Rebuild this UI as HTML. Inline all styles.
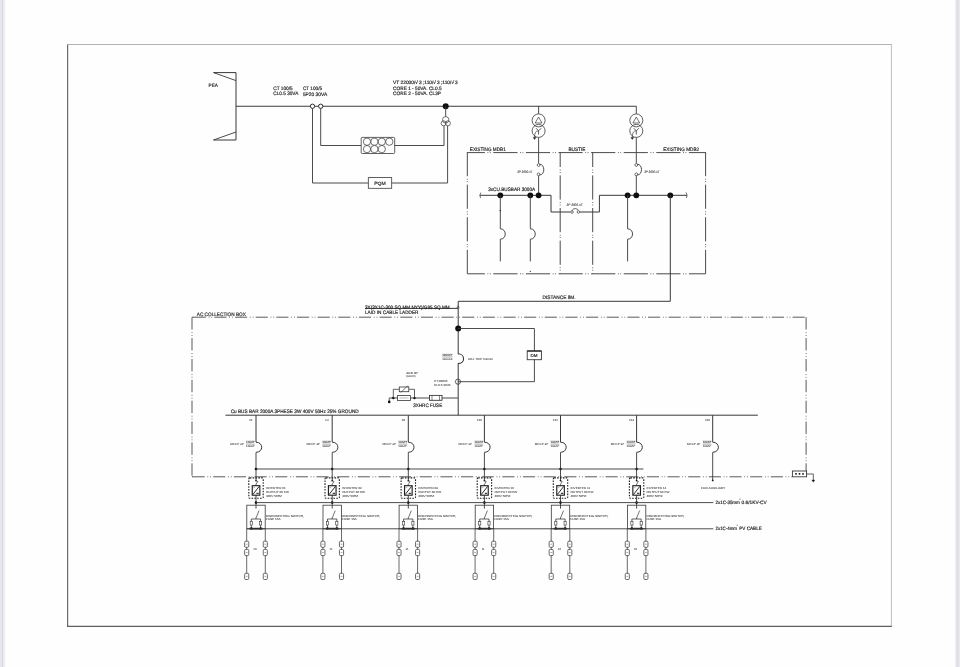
<!DOCTYPE html>
<html><head><meta charset="utf-8"><title>Single line diagram</title>
<style>
html,body{margin:0;padding:0;background:#fefefe;}
body{width:960px;height:667px;overflow:hidden;position:relative;font-family:"Liberation Sans",sans-serif;}
.edgeL{position:absolute;left:0;top:0;width:6px;height:667px;background:linear-gradient(90deg,#e9e8ee 0,#e7e6ec 33%,#d8d8df 43%,#e6e6ec 52%,#ededf2 70%,#f8f8fa 85%,#fefefe 100%);}
.edgeR{position:absolute;left:954px;top:0;width:6px;height:667px;background:linear-gradient(90deg,#fefefe 0,#f6f6f9 18%,#ebebf0 35%,#d6d6dd 52%,#e4e3ea 65%,#e9e8ee 100%);}
svg{position:absolute;left:0;top:0;}
svg text{font-family:"Liberation Sans",sans-serif;text-rendering:geometricPrecision;}
</style></head><body>
<div class="edgeL"></div><div class="edgeR"></div>
<svg width="960" height="667" viewBox="0 0 960 667">
<g filter="url(#soft)">
<defs><filter id="soft" x="0" y="0" width="960" height="667" filterUnits="userSpaceOnUse"><feGaussianBlur stdDeviation="0.45"/></filter></defs>
<line x1="67.6" y1="44.2" x2="67.6" y2="626.9" stroke="#6c6c6c" stroke-width="1.2" />
<line x1="67" y1="44.5" x2="891.8" y2="44.5" stroke="#a0a0a0" stroke-width="0.8" />
<line x1="891.4" y1="44.2" x2="891.4" y2="626.9" stroke="#b8b8b8" stroke-width="0.9" />
<line x1="67" y1="626.4" x2="891.8" y2="626.4" stroke="#5e5e5e" stroke-width="1.2" />
<polyline points="213.5,72.6 236,72.6 236,140 213.5,140" fill="none" stroke="#383838" stroke-width="1.0" />
<line x1="213.5" y1="72.6" x2="236" y2="80.6" stroke="#383838" stroke-width="0.9" />
<line x1="213.5" y1="140" x2="236" y2="132" stroke="#383838" stroke-width="0.9" />
<text x="208.5" y="87" font-size="4.8" fill="#222" stroke="#222" stroke-width="0.16" textLength="9.5" lengthAdjust="spacingAndGlyphs" >PEA</text>
<line x1="236" y1="106.25" x2="636.3" y2="106.25" stroke="#383838" stroke-width="1.1" />
<circle cx="312.5" cy="106.25" r="2.15" fill="#fff" stroke="#2a2a2a" stroke-width="1.0"/>
<circle cx="320.7" cy="106.25" r="2.15" fill="#fff" stroke="#2a2a2a" stroke-width="1.0"/>
<polyline points="312.5,108.4 312.5,183 368.3,183" fill="none" stroke="#383838" stroke-width="0.9" />
<polyline points="320.7,108.4 320.7,145.5 361.2,145.5" fill="none" stroke="#383838" stroke-width="0.9" />
<text x="273.3" y="89.8" font-size="4.9" fill="#222" stroke="#222" stroke-width="0.16" textLength="19.4" lengthAdjust="spacingAndGlyphs" >CT 100/5</text>
<text x="273.3" y="95.2" font-size="4.9" fill="#222" stroke="#222" stroke-width="0.16" textLength="25" lengthAdjust="spacingAndGlyphs" >CL0.5 30VA</text>
<text x="302.9" y="89.8" font-size="4.9" fill="#222" stroke="#222" stroke-width="0.16" textLength="19.2" lengthAdjust="spacingAndGlyphs" >CT 100/5</text>
<text x="302.9" y="96.1" font-size="4.9" fill="#222" stroke="#222" stroke-width="0.16" textLength="24.3" lengthAdjust="spacingAndGlyphs" >5P20 30VA</text>
<rect x="361.2" y="137.4" width="33.5" height="16.1" fill="none" stroke="#383838" stroke-width="0.8" rx="1"/>
<circle cx="367" cy="141.7" r="3.65" fill="none" stroke="#383838" stroke-width="0.7"/>
<circle cx="374.4" cy="141.7" r="3.65" fill="none" stroke="#383838" stroke-width="0.7"/>
<circle cx="381.8" cy="141.7" r="3.65" fill="none" stroke="#383838" stroke-width="0.7"/>
<circle cx="389.3" cy="141.7" r="3.65" fill="none" stroke="#383838" stroke-width="0.7"/>
<circle cx="367" cy="149.1" r="3.65" fill="none" stroke="#383838" stroke-width="0.7"/>
<circle cx="374.4" cy="149.1" r="3.65" fill="none" stroke="#383838" stroke-width="0.7"/>
<circle cx="381.8" cy="149.1" r="3.65" fill="none" stroke="#383838" stroke-width="0.7"/>
<rect x="368.3" y="177.6" width="23.4" height="10.7" fill="none" stroke="#383838" stroke-width="0.8" />
<text x="374.2" y="184.8" font-size="4.6" fill="#222" stroke="#222" stroke-width="0.16" textLength="11.5" lengthAdjust="spacingAndGlyphs" >PQM</text>
<circle cx="445.7" cy="106.2" r="3.0" fill="#111"/>
<line x1="445.7" y1="106.2" x2="445.7" y2="116.6" stroke="#383838" stroke-width="0.9" />
<circle cx="445.7" cy="119.8" r="3.2" fill="none" stroke="#383838" stroke-width="0.7"/>
<circle cx="443.6" cy="123.3" r="2.5" fill="none" stroke="#383838" stroke-width="0.7"/>
<circle cx="447.9" cy="123.3" r="2.5" fill="none" stroke="#383838" stroke-width="0.7"/>
<polyline points="394.7,145.5 444,145.5 444,125.8" fill="none" stroke="#383838" stroke-width="0.9" />
<polyline points="391.7,183 447.6,183 447.6,125.8" fill="none" stroke="#383838" stroke-width="0.9" />
<text x="393.1" y="83.6" font-size="4.8" fill="#222" stroke="#222" stroke-width="0.16" textLength="64.6" lengthAdjust="spacingAndGlyphs" >VT 22000/&#8730;&#8201;3 ;110/&#8730;&#8201;3 ;110/&#8730;&#8201;3</text>
<text x="393.1" y="89.6" font-size="4.8" fill="#222" stroke="#222" stroke-width="0.16" textLength="48.5" lengthAdjust="spacingAndGlyphs" >CORE 1 - 50VA. CL0.5</text>
<text x="393.1" y="95.1" font-size="4.8" fill="#222" stroke="#222" stroke-width="0.16" textLength="47.9" lengthAdjust="spacingAndGlyphs" >CORE 2 - 50VA. CL3P</text>
<line x1="538.6" y1="106.2" x2="538.6" y2="113.8" stroke="#383838" stroke-width="0.9" />
<circle cx="538.6" cy="120.4" r="6.5" fill="none" stroke="#383838" stroke-width="0.8"/>
<circle cx="538.6" cy="130.9" r="6.5" fill="none" stroke="#383838" stroke-width="0.8"/>
<path d="M535.2,123.0 L542.0,123.0 L538.6,117.0 Z" fill="none" stroke="#383838" stroke-width="0.7" />
<path d="M536.0,128.2 L538.6,130.8 L541.2,128.2 M538.6,130.8 L538.6,134.6" fill="none" stroke="#383838" stroke-width="0.8" />
<path d="M538.6,130.8 Q534.4,130.6 534.6,137.6" fill="none" stroke="#383838" stroke-width="0.7" />
<path d="M533.2,137.4 L536.0,137.4 L534.6,139.4 Z" fill="#111" stroke="#383838" stroke-width="0.5" />
<line x1="538.6" y1="137.7" x2="538.6" y2="163.6" stroke="#383838" stroke-width="0.9" />
<circle cx="538.6" cy="165.0" r="1.4" fill="#fff" stroke="#383838" stroke-width="0.7"/>
<circle cx="538.6" cy="174.3" r="1.4" fill="#fff" stroke="#383838" stroke-width="0.7"/>
<path d="M539.6,164.2 C545.2,164.2 545.2,175.0 539.6,175.0" fill="none" stroke="#383838" stroke-width="0.9" />
<line x1="538.6" y1="175.7" x2="538.6" y2="195.3" stroke="#383838" stroke-width="0.9" />
<line x1="636.3" y1="106.2" x2="636.3" y2="113.8" stroke="#383838" stroke-width="0.9" />
<circle cx="636.3" cy="120.4" r="6.5" fill="none" stroke="#383838" stroke-width="0.8"/>
<circle cx="636.3" cy="130.9" r="6.5" fill="none" stroke="#383838" stroke-width="0.8"/>
<path d="M632.9,123.0 L639.6999999999999,123.0 L636.3,117.0 Z" fill="none" stroke="#383838" stroke-width="0.7" />
<path d="M633.6999999999999,128.2 L636.3,130.8 L638.9,128.2 M636.3,130.8 L636.3,134.6" fill="none" stroke="#383838" stroke-width="0.8" />
<path d="M636.3,130.8 Q632.0999999999999,130.6 632.3,137.6" fill="none" stroke="#383838" stroke-width="0.7" />
<path d="M630.9,137.4 L633.6999999999999,137.4 L632.3,139.4 Z" fill="#111" stroke="#383838" stroke-width="0.5" />
<line x1="636.3" y1="137.7" x2="636.3" y2="163.6" stroke="#383838" stroke-width="0.9" />
<circle cx="636.3" cy="165.0" r="1.4" fill="#fff" stroke="#383838" stroke-width="0.7"/>
<circle cx="636.3" cy="174.3" r="1.4" fill="#fff" stroke="#383838" stroke-width="0.7"/>
<path d="M637.3,164.2 C642.9,164.2 642.9,175.0 637.3,175.0" fill="none" stroke="#383838" stroke-width="0.9" />
<line x1="636.3" y1="175.7" x2="636.3" y2="195.3" stroke="#383838" stroke-width="0.9" />
<text x="517.2" y="173.0" font-size="3.4" fill="#1a1a1a" stroke="#1a1a1a" stroke-width="0.05" textLength="15.2" lengthAdjust="spacingAndGlyphs" font-style="italic">3P 3000 AT</text>
<text x="644.2" y="173.0" font-size="3.4" fill="#1a1a1a" stroke="#1a1a1a" stroke-width="0.05" textLength="15.2" lengthAdjust="spacingAndGlyphs" font-style="italic">3P 3000 AT</text>
<line x1="467.3" y1="152.6" x2="705.6" y2="152.6" stroke="#4a4a4a" stroke-width="1.0" stroke-dasharray="24.2 2.6 0.8 1.6 0.8 2.6" stroke-dashoffset="6.6"/>
<line x1="467.3" y1="273.8" x2="705.6" y2="273.8" stroke="#4a4a4a" stroke-width="1.0" stroke-dasharray="24.2 2.6 0.8 1.6 0.8 2.6" stroke-dashoffset="6.6"/>
<line x1="467.3" y1="152.0" x2="467.3" y2="273.8" stroke="#4a4a4a" stroke-width="1.0" stroke-dasharray="24.2 2.6 0.8 1.6 0.8 2.6"/>
<line x1="705.6" y1="152.0" x2="705.6" y2="273.8" stroke="#4a4a4a" stroke-width="1.0" stroke-dasharray="24.2 2.6 0.8 1.6 0.8 2.6"/>
<line x1="560.2" y1="152.0" x2="560.2" y2="273.8" stroke="#4a4a4a" stroke-width="1.0" stroke-dasharray="24.2 2.6 0.8 1.6 0.8 2.6" stroke-dashoffset="9.2"/>
<line x1="592.7" y1="152.0" x2="592.7" y2="273.8" stroke="#4a4a4a" stroke-width="1.0" stroke-dasharray="24.2 2.6 0.8 1.6 0.8 2.6" stroke-dashoffset="9.2"/>
<text x="469.8" y="151.3" font-size="5.0" fill="#222" stroke="#222" stroke-width="0.16" textLength="36" lengthAdjust="spacingAndGlyphs" >EXISTING MDB1</text>
<text x="568.4" y="151.3" font-size="5.0" fill="#222" stroke="#222" stroke-width="0.16" textLength="17" lengthAdjust="spacingAndGlyphs" >BUSTIE</text>
<text x="663.2" y="151.3" font-size="5.0" fill="#222" stroke="#222" stroke-width="0.16" textLength="36" lengthAdjust="spacingAndGlyphs" >EXISTING MDB2</text>
<polyline points="479.8,195.3 551,195.3 551,212 599.4,212 599.4,195.3 687,195.3" fill="none" stroke="#383838" stroke-width="1.0" />
<path d="M480.8,192.6 Q479.0,195.3 480.6,198.0" fill="none" stroke="#383838" stroke-width="0.7" />
<path d="M686.0,192.4 Q688,195.3 686.4,198.0" fill="none" stroke="#383838" stroke-width="0.7" />
<circle cx="500.3" cy="195.3" r="2.9" fill="#111"/>
<circle cx="530.3" cy="195.3" r="2.9" fill="#111"/>
<circle cx="538.6" cy="195.3" r="2.9" fill="#111"/>
<circle cx="627.6" cy="195.3" r="2.9" fill="#111"/>
<circle cx="636.3" cy="195.3" r="2.9" fill="#111"/>
<circle cx="670.3" cy="195.3" r="2.9" fill="#111"/>
<text x="488.2" y="190.8" font-size="4.9" fill="#222" stroke="#222" stroke-width="0.16" textLength="47" lengthAdjust="spacingAndGlyphs" >3xCU.BUSBAR 3000A</text>
<rect x="570.4" y="209.5" width="9.5" height="4" fill="#fff" stroke="none" stroke-width="0.0" />
<circle cx="572" cy="212" r="1.3" fill="#fff" stroke="#383838" stroke-width="0.7"/>
<circle cx="578.4" cy="212" r="1.3" fill="#fff" stroke="#383838" stroke-width="0.7"/>
<path d="M572.2,210.6 C572.6,208 577.8,208 578.2,210.6" fill="none" stroke="#383838" stroke-width="0.8" />
<text x="566.6" y="205.9" font-size="3.4" fill="#1a1a1a" stroke="#1a1a1a" stroke-width="0.05" textLength="16" lengthAdjust="spacingAndGlyphs" font-style="italic">3P 3000 AT</text>
<line x1="500.3" y1="195.3" x2="500.3" y2="228.8" stroke="#383838" stroke-width="0.9" />
<path d="M500.3,228.8 C506.90000000000003,228.8 506.90000000000003,239.2 500.3,239.2" fill="none" stroke="#383838" stroke-width="0.9" />
<line x1="500.3" y1="239.2" x2="500.3" y2="261.4" stroke="#383838" stroke-width="0.9" />
<line x1="530.3" y1="195.3" x2="530.3" y2="228.8" stroke="#383838" stroke-width="0.9" />
<path d="M530.3,228.8 C536.9,228.8 536.9,239.2 530.3,239.2" fill="none" stroke="#383838" stroke-width="0.9" />
<line x1="530.3" y1="239.2" x2="530.3" y2="261.4" stroke="#383838" stroke-width="0.9" />
<line x1="627.6" y1="195.3" x2="627.6" y2="228.8" stroke="#383838" stroke-width="0.9" />
<path d="M627.6,228.8 C634.2,228.8 634.2,239.2 627.6,239.2" fill="none" stroke="#383838" stroke-width="0.9" />
<line x1="627.6" y1="239.2" x2="627.6" y2="261.4" stroke="#383838" stroke-width="0.9" />
<circle cx="500.3" cy="210.6" r="0.7" fill="#111"/>
<circle cx="530.3" cy="271.3" r="0.6" fill="#111"/>
<polyline points="670.3,195.3 670.3,301.3 458.2,301.3 458.2,415.2" fill="none" stroke="#383838" stroke-width="1.0" />
<text x="542.6" y="299.4" font-size="4.9" fill="#222" stroke="#222" stroke-width="0.16" textLength="33" lengthAdjust="spacingAndGlyphs" >DISTANCE 8M.</text>
<line x1="365" y1="308.4" x2="458" y2="308.4" stroke="#222" stroke-width="0.9" />
<path d="M456.6,308.3 L458,305.8 L459.4,308.3" fill="none" stroke="#383838" stroke-width="0.6" />
<text x="365" y="308.6" font-size="4.9" fill="#222" stroke="#222" stroke-width="0.16" textLength="86" lengthAdjust="spacingAndGlyphs" >3X(3X1C-300 SQ.MM.NYY)/G95 SQ.MM.</text>
<text x="365" y="313.8" font-size="4.9" fill="#222" stroke="#222" stroke-width="0.16" textLength="53.5" lengthAdjust="spacingAndGlyphs" >LAID IN CABLE LADDER</text>
<line x1="193.75" y1="317.2" x2="806.3" y2="317.2" stroke="#5a5a5a" stroke-width="1.0" stroke-dasharray="12.1 2.7 0.8 2.0 0.8 2.25"/>
<line x1="192" y1="317.2" x2="194" y2="317.2" stroke="#5a5a5a" stroke-width="1.0" />
<line x1="192.6" y1="476.8" x2="792" y2="476.8" stroke="#5a5a5a" stroke-width="1.0" stroke-dasharray="12.1 2.7 0.8 2.0 0.8 2.25"/>
<line x1="192" y1="476.8" x2="193" y2="476.8" stroke="#5a5a5a" stroke-width="1.0" />
<line x1="192" y1="317.2" x2="192" y2="476.8" stroke="#5a5a5a" stroke-width="1.0" stroke-dasharray="12.4 2.7 0.8 2.0 0.8 2.17"/>
<line x1="806.1" y1="317.2" x2="806.1" y2="476.8" stroke="#5a5a5a" stroke-width="1.0" stroke-dasharray="12.4 2.7 0.8 2.0 0.8 2.17"/>
<text x="196.8" y="315.6" font-size="4.9" fill="#222" stroke="#222" stroke-width="0.16" textLength="49" lengthAdjust="spacingAndGlyphs" >AC COLLECTION BOX</text>
<circle cx="458.2" cy="328.5" r="3.0" fill="#111"/>
<polyline points="458,328.5 534.4,328.5 534.4,350.8" fill="none" stroke="#383838" stroke-width="0.9" />
<polyline points="534.4,359.6 534.4,381.7 458,381.7" fill="none" stroke="#383838" stroke-width="0.9" />
<rect x="527.2" y="351.0" width="14.2" height="8.7" fill="none" stroke="#383838" stroke-width="0.9" />
<line x1="527.2" y1="351.0" x2="541.4" y2="351.0" stroke="#222" stroke-width="1.2" />
<text x="530.6" y="357" font-size="4.2" fill="#222" stroke="#222" stroke-width="0.16" textLength="7" lengthAdjust="spacingAndGlyphs" >DM</text>
<circle cx="458" cy="381.7" r="2.6" fill="none" stroke="#383838" stroke-width="0.8"/>
<rect x="456.5" y="354.2" width="3" height="8.9" fill="#fefefe" stroke="none" stroke-width="0.0" />
<path d="M458,353.8 C465.4,353.8 465.4,363.5 458,363.5" fill="none" stroke="#383838" stroke-width="1.1" />
<text x="442.2" y="356.3" font-size="2.5" fill="#3a3a3a" stroke="#3a3a3a" stroke-width="0.05" textLength="10.3" lengthAdjust="spacingAndGlyphs" >1250AT</text>
<line x1="442.2" y1="354.3" x2="452.5" y2="354.3" stroke="#383838" stroke-width="0.35" />
<line x1="442.2" y1="357.0" x2="452.5" y2="357.0" stroke="#383838" stroke-width="0.4" />
<text x="442.2" y="360.2" font-size="2.5" fill="#3a3a3a" stroke="#3a3a3a" stroke-width="0.05" textLength="10.3" lengthAdjust="spacingAndGlyphs" >1600AF</text>
<text x="468.1" y="360.4" font-size="2.8" fill="#3a3a3a" stroke="#3a3a3a" stroke-width="0.05" textLength="25" lengthAdjust="spacingAndGlyphs" >ADJ. TRIP 0.8In/In</text>
<text x="406.2" y="373.8" font-size="3.0" fill="#3a3a3a" stroke="#3a3a3a" stroke-width="0.05" textLength="11.5" lengthAdjust="spacingAndGlyphs" >ACB 3P</text>
<text x="406.2" y="377.0" font-size="2.8" fill="#3a3a3a" stroke="#3a3a3a" stroke-width="0.05" textLength="9.4" lengthAdjust="spacingAndGlyphs" >(GR-R)</text>
<text x="434.1" y="382.3" font-size="2.9" fill="#3a3a3a" stroke="#3a3a3a" stroke-width="0.05" textLength="13.4" lengthAdjust="spacingAndGlyphs" >CT1000/5</text>
<text x="434.1" y="385.6" font-size="2.9" fill="#3a3a3a" stroke="#3a3a3a" stroke-width="0.05" textLength="16.5" lengthAdjust="spacingAndGlyphs" >CL0.5 30VA</text>
<line x1="389.2" y1="398" x2="429.5" y2="398" stroke="#383838" stroke-width="0.9" />
<line x1="442" y1="398" x2="458" y2="398" stroke="#383838" stroke-width="0.9" />
<polyline points="389.2,398 389.2,401.6" fill="none" stroke="#383838" stroke-width="0.8" />
<circle cx="389.2" cy="401.9" r="1.3" fill="#111"/>
<circle cx="393.3" cy="398" r="1.2" fill="#111"/>
<circle cx="414.5" cy="398" r="1.2" fill="#111"/>
<rect x="397.5" y="395.6" width="13" height="4.8" fill="#fff" stroke="#383838" stroke-width="0.8" />
<line x1="399.5" y1="398" x2="408.5" y2="398" stroke="#777" stroke-width="0.5" />
<polyline points="393.3,398 393.3,389.3 399.3,389.3" fill="none" stroke="#383838" stroke-width="0.8" />
<polyline points="408.8,389.3 414.5,389.3 414.5,398" fill="none" stroke="#383838" stroke-width="0.8" />
<rect x="399.3" y="387" width="9.5" height="4.7" fill="#fff" stroke="#383838" stroke-width="0.8" />
<line x1="400.8" y1="392.6" x2="407.2" y2="386.2" stroke="#383838" stroke-width="0.7" />
<line x1="407.2" y1="386.2" x2="408.6" y2="386.2" stroke="#383838" stroke-width="0.6" />
<rect x="429.5" y="395.4" width="12.5" height="4.9" fill="#fff" stroke="#383838" stroke-width="0.9" />
<line x1="432" y1="395.4" x2="432" y2="400.3" stroke="#383838" stroke-width="0.6" />
<line x1="439.5" y1="395.4" x2="439.5" y2="400.3" stroke="#383838" stroke-width="0.6" />
<text x="413.2" y="407.2" font-size="4.9" fill="#222" stroke="#222" stroke-width="0.16" textLength="29" lengthAdjust="spacingAndGlyphs" >3XHRC FUSE</text>
<line x1="225.5" y1="415.2" x2="757.8" y2="415.2" stroke="#383838" stroke-width="1.0" />
<text x="230.7" y="413.3" font-size="4.9" fill="#222" stroke="#222" stroke-width="0.16" textLength="128" lengthAdjust="spacingAndGlyphs" >Cu BUS BAR 2000A 3PHESE 3W 400V 50Hz 25% GROUND</text>
<line x1="256.0" y1="415.2" x2="256.0" y2="442.2" stroke="#383838" stroke-width="1.0" />
<path d="M256.0,442.2 C263.6,442.2 263.6,452.3 256.0,452.3" fill="none" stroke="#383838" stroke-width="1.0" />
<text x="249.4" y="420.8" font-size="2.8" fill="#2a2a2a" stroke="#2a2a2a" stroke-width="0.05" >F1</text>
<text x="230.2" y="445.4" font-size="2.8" fill="#3a3a3a" stroke="#3a3a3a" stroke-width="0.05" textLength="13.5" lengthAdjust="spacingAndGlyphs" >MCCP 3P</text>
<text x="246.0" y="443.1" font-size="2.4" fill="#3a3a3a" stroke="#3a3a3a" stroke-width="0.05" textLength="8.7" lengthAdjust="spacingAndGlyphs" >100AT</text>
<line x1="246.0" y1="441.1" x2="254.7" y2="441.1" stroke="#383838" stroke-width="0.3" />
<line x1="246.0" y1="444.1" x2="254.7" y2="444.1" stroke="#383838" stroke-width="0.4" />
<text x="246.0" y="447.2" font-size="2.4" fill="#3a3a3a" stroke="#3a3a3a" stroke-width="0.05" textLength="8.7" lengthAdjust="spacingAndGlyphs" >100AF</text>
<line x1="256.0" y1="452.4" x2="256.0" y2="480" stroke="#383838" stroke-width="0.9" />
<circle cx="256.0" cy="469" r="1.3" fill="#111"/>
<rect x="248.8" y="477.9" width="14.4" height="20.4" fill="none" stroke="#1c1c1c" stroke-width="1.1" stroke-dasharray="1.55 1.3" rx="1"/>
<circle cx="256.0" cy="480.6" r="0.85" fill="#111"/>
<line x1="256.2" y1="480.8" x2="257.9" y2="481.6" stroke="#383838" stroke-width="0.7" />
<line x1="257.7" y1="481.6" x2="255.8" y2="484.6" stroke="#383838" stroke-width="0.7" />
<line x1="256.0" y1="484.4" x2="256.0" y2="485.6" stroke="#383838" stroke-width="0.8" />
<rect x="252.25" y="485.7" width="7.6" height="9.5" fill="#fff" stroke="#222" stroke-width="1.15" />
<line x1="252.8" y1="494.6" x2="259.3" y2="486.3" stroke="#222" stroke-width="0.95" />
<line x1="256.4" y1="493.3" x2="258.8" y2="493.3" stroke="#111" stroke-width="1.0" />
<line x1="253.2" y1="487.6" x2="255.0" y2="487.6" stroke="#777" stroke-width="0.5" />
<line x1="256.0" y1="495" x2="256.0" y2="508.6" stroke="#383838" stroke-width="0.9" />
<circle cx="256.0" cy="502.6" r="1.3" fill="#111"/>
<text x="266.0" y="489.0" font-size="2.9" fill="#3a3a3a" stroke="#3a3a3a" stroke-width="0.05" textLength="19.6" lengthAdjust="spacingAndGlyphs" >INVERTER 01</text>
<text x="266.0" y="492.5" font-size="2.9" fill="#3a3a3a" stroke="#3a3a3a" stroke-width="0.05" textLength="22.8" lengthAdjust="spacingAndGlyphs" >OUTPUT 60 KW</text>
<text x="266.0" y="496.5" font-size="2.9" fill="#3a3a3a" stroke="#3a3a3a" stroke-width="0.05" textLength="16" lengthAdjust="spacingAndGlyphs" >400V 50HZ</text>
<rect x="246.8" y="505.2" width="18.4" height="23.6" fill="none" stroke="#383838" stroke-width="0.8" />
<line x1="256.2" y1="517.6" x2="259.0" y2="510.6" stroke="#383838" stroke-width="0.7" />
<line x1="256.0" y1="517.4" x2="256.0" y2="519" stroke="#383838" stroke-width="0.8" />
<line x1="251.3" y1="519" x2="260.6" y2="519" stroke="#383838" stroke-width="0.8" />
<line x1="251.3" y1="519" x2="251.3" y2="528.6" stroke="#383838" stroke-width="0.8" />
<rect x="250.20000000000002" y="521.4" width="2.2" height="3.6" fill="#fff" stroke="#383838" stroke-width="0.6" />
<circle cx="251.3" cy="528.4" r="1.2" fill="#111"/>
<line x1="260.6" y1="519" x2="260.6" y2="528.6" stroke="#383838" stroke-width="0.8" />
<rect x="259.5" y="521.4" width="2.2" height="3.6" fill="#fff" stroke="#383838" stroke-width="0.6" />
<circle cx="260.6" cy="528.4" r="1.2" fill="#111"/>
<line x1="249.5" y1="528.6" x2="262.5" y2="528.6" stroke="#222" stroke-width="1.6" />
<text x="265.8" y="516.9" font-size="2.9" fill="#3a3a3a" stroke="#3a3a3a" stroke-width="0.05" textLength="38.1" lengthAdjust="spacingAndGlyphs" >DISCONECTING SWITCH,</text>
<text x="265.8" y="520.0" font-size="2.9" fill="#3a3a3a" stroke="#3a3a3a" stroke-width="0.05" textLength="14.7" lengthAdjust="spacingAndGlyphs" >FUSE 15A</text>
<line x1="246.7" y1="528.8" x2="246.7" y2="579.4" stroke="#444" stroke-width="0.8" />
<rect x="244.64999999999998" y="541.2" width="4.1" height="6.1" fill="#fff" stroke="#3a3a3a" stroke-width="0.75" rx="1.1"/>
<line x1="245.79999999999998" y1="544.25" x2="247.6" y2="544.25" stroke="#777" stroke-width="0.6" />
<rect x="244.64999999999998" y="549.4" width="4.1" height="6.2" fill="#fff" stroke="#3a3a3a" stroke-width="0.75" rx="1.1"/>
<line x1="245.79999999999998" y1="552.5" x2="247.6" y2="552.5" stroke="#777" stroke-width="0.6" />
<rect x="244.64999999999998" y="573.3" width="4.1" height="6.2" fill="#fff" stroke="#3a3a3a" stroke-width="0.75" rx="1.1"/>
<line x1="245.79999999999998" y1="576.4" x2="247.6" y2="576.4" stroke="#777" stroke-width="0.6" />
<line x1="265.3" y1="528.8" x2="265.3" y2="579.4" stroke="#444" stroke-width="0.8" />
<rect x="263.25" y="541.2" width="4.1" height="6.1" fill="#fff" stroke="#3a3a3a" stroke-width="0.75" rx="1.1"/>
<line x1="264.40000000000003" y1="544.25" x2="266.2" y2="544.25" stroke="#777" stroke-width="0.6" />
<rect x="263.25" y="549.4" width="4.1" height="6.2" fill="#fff" stroke="#3a3a3a" stroke-width="0.75" rx="1.1"/>
<line x1="264.40000000000003" y1="552.5" x2="266.2" y2="552.5" stroke="#777" stroke-width="0.6" />
<rect x="263.25" y="573.3" width="4.1" height="6.2" fill="#fff" stroke="#3a3a3a" stroke-width="0.75" rx="1.1"/>
<line x1="264.40000000000003" y1="576.4" x2="266.2" y2="576.4" stroke="#777" stroke-width="0.6" />
<text x="253.3" y="549.5" font-size="2.9" fill="#444" stroke="#444" stroke-width="0.05" >10</text>
<line x1="332.2" y1="415.2" x2="332.2" y2="442.2" stroke="#383838" stroke-width="1.0" />
<path d="M332.2,442.2 C339.8,442.2 339.8,452.3 332.2,452.3" fill="none" stroke="#383838" stroke-width="1.0" />
<text x="325.59999999999997" y="420.8" font-size="2.8" fill="#2a2a2a" stroke="#2a2a2a" stroke-width="0.05" >F2</text>
<text x="306.4" y="445.4" font-size="2.8" fill="#3a3a3a" stroke="#3a3a3a" stroke-width="0.05" textLength="13.5" lengthAdjust="spacingAndGlyphs" >MCCP 3P</text>
<text x="322.2" y="443.1" font-size="2.4" fill="#3a3a3a" stroke="#3a3a3a" stroke-width="0.05" textLength="8.7" lengthAdjust="spacingAndGlyphs" >100AT</text>
<line x1="322.2" y1="441.1" x2="330.9" y2="441.1" stroke="#383838" stroke-width="0.3" />
<line x1="322.2" y1="444.1" x2="330.9" y2="444.1" stroke="#383838" stroke-width="0.4" />
<text x="322.2" y="447.2" font-size="2.4" fill="#3a3a3a" stroke="#3a3a3a" stroke-width="0.05" textLength="8.7" lengthAdjust="spacingAndGlyphs" >100AF</text>
<line x1="332.2" y1="452.4" x2="332.2" y2="480" stroke="#383838" stroke-width="0.9" />
<circle cx="332.2" cy="469" r="1.3" fill="#111"/>
<rect x="325.0" y="477.9" width="14.4" height="20.4" fill="none" stroke="#1c1c1c" stroke-width="1.1" stroke-dasharray="1.55 1.3" rx="1"/>
<circle cx="332.2" cy="480.6" r="0.85" fill="#111"/>
<line x1="332.4" y1="480.8" x2="334.09999999999997" y2="481.6" stroke="#383838" stroke-width="0.7" />
<line x1="333.9" y1="481.6" x2="332.0" y2="484.6" stroke="#383838" stroke-width="0.7" />
<line x1="332.2" y1="484.4" x2="332.2" y2="485.6" stroke="#383838" stroke-width="0.8" />
<rect x="328.45" y="485.7" width="7.6" height="9.5" fill="#fff" stroke="#222" stroke-width="1.15" />
<line x1="329.0" y1="494.6" x2="335.5" y2="486.3" stroke="#222" stroke-width="0.95" />
<line x1="332.59999999999997" y1="493.3" x2="335.0" y2="493.3" stroke="#111" stroke-width="1.0" />
<line x1="329.4" y1="487.6" x2="331.2" y2="487.6" stroke="#777" stroke-width="0.5" />
<line x1="332.2" y1="495" x2="332.2" y2="508.6" stroke="#383838" stroke-width="0.9" />
<circle cx="332.2" cy="502.6" r="1.3" fill="#111"/>
<text x="342.2" y="489.0" font-size="2.9" fill="#3a3a3a" stroke="#3a3a3a" stroke-width="0.05" textLength="19.6" lengthAdjust="spacingAndGlyphs" >INVERTER 02</text>
<text x="342.2" y="492.5" font-size="2.9" fill="#3a3a3a" stroke="#3a3a3a" stroke-width="0.05" textLength="22.8" lengthAdjust="spacingAndGlyphs" >OUTPUT 60 KW</text>
<text x="342.2" y="496.5" font-size="2.9" fill="#3a3a3a" stroke="#3a3a3a" stroke-width="0.05" textLength="16" lengthAdjust="spacingAndGlyphs" >400V 50HZ</text>
<rect x="323.0" y="505.2" width="18.4" height="23.6" fill="none" stroke="#383838" stroke-width="0.8" />
<line x1="332.4" y1="517.6" x2="335.2" y2="510.6" stroke="#383838" stroke-width="0.7" />
<line x1="332.2" y1="517.4" x2="332.2" y2="519" stroke="#383838" stroke-width="0.8" />
<line x1="327.5" y1="519" x2="336.8" y2="519" stroke="#383838" stroke-width="0.8" />
<line x1="327.5" y1="519" x2="327.5" y2="528.6" stroke="#383838" stroke-width="0.8" />
<rect x="326.4" y="521.4" width="2.2" height="3.6" fill="#fff" stroke="#383838" stroke-width="0.6" />
<circle cx="327.5" cy="528.4" r="1.2" fill="#111"/>
<line x1="336.8" y1="519" x2="336.8" y2="528.6" stroke="#383838" stroke-width="0.8" />
<rect x="335.7" y="521.4" width="2.2" height="3.6" fill="#fff" stroke="#383838" stroke-width="0.6" />
<circle cx="336.8" cy="528.4" r="1.2" fill="#111"/>
<line x1="325.7" y1="528.6" x2="338.7" y2="528.6" stroke="#222" stroke-width="1.6" />
<text x="342.0" y="516.9" font-size="2.9" fill="#3a3a3a" stroke="#3a3a3a" stroke-width="0.05" textLength="38.1" lengthAdjust="spacingAndGlyphs" >DISCONECTING SWITCH,</text>
<text x="342.0" y="520.0" font-size="2.9" fill="#3a3a3a" stroke="#3a3a3a" stroke-width="0.05" textLength="14.7" lengthAdjust="spacingAndGlyphs" >FUSE 15A</text>
<line x1="322.9" y1="528.8" x2="322.9" y2="579.4" stroke="#444" stroke-width="0.8" />
<rect x="320.84999999999997" y="541.2" width="4.1" height="6.1" fill="#fff" stroke="#3a3a3a" stroke-width="0.75" rx="1.1"/>
<line x1="322.0" y1="544.25" x2="323.79999999999995" y2="544.25" stroke="#777" stroke-width="0.6" />
<rect x="320.84999999999997" y="549.4" width="4.1" height="6.2" fill="#fff" stroke="#3a3a3a" stroke-width="0.75" rx="1.1"/>
<line x1="322.0" y1="552.5" x2="323.79999999999995" y2="552.5" stroke="#777" stroke-width="0.6" />
<rect x="320.84999999999997" y="573.3" width="4.1" height="6.2" fill="#fff" stroke="#3a3a3a" stroke-width="0.75" rx="1.1"/>
<line x1="322.0" y1="576.4" x2="323.79999999999995" y2="576.4" stroke="#777" stroke-width="0.6" />
<line x1="341.5" y1="528.8" x2="341.5" y2="579.4" stroke="#444" stroke-width="0.8" />
<rect x="339.45" y="541.2" width="4.1" height="6.1" fill="#fff" stroke="#3a3a3a" stroke-width="0.75" rx="1.1"/>
<line x1="340.6" y1="544.25" x2="342.4" y2="544.25" stroke="#777" stroke-width="0.6" />
<rect x="339.45" y="549.4" width="4.1" height="6.2" fill="#fff" stroke="#3a3a3a" stroke-width="0.75" rx="1.1"/>
<line x1="340.6" y1="552.5" x2="342.4" y2="552.5" stroke="#777" stroke-width="0.6" />
<rect x="339.45" y="573.3" width="4.1" height="6.2" fill="#fff" stroke="#3a3a3a" stroke-width="0.75" rx="1.1"/>
<line x1="340.6" y1="576.4" x2="342.4" y2="576.4" stroke="#777" stroke-width="0.6" />
<text x="329.5" y="549.5" font-size="2.9" fill="#444" stroke="#444" stroke-width="0.05" >11</text>
<line x1="408.3" y1="415.2" x2="408.3" y2="442.2" stroke="#383838" stroke-width="1.0" />
<path d="M408.3,442.2 C415.90000000000003,442.2 415.90000000000003,452.3 408.3,452.3" fill="none" stroke="#383838" stroke-width="1.0" />
<text x="401.7" y="420.8" font-size="2.8" fill="#2a2a2a" stroke="#2a2a2a" stroke-width="0.05" >F9</text>
<text x="382.5" y="445.4" font-size="2.8" fill="#3a3a3a" stroke="#3a3a3a" stroke-width="0.05" textLength="13.5" lengthAdjust="spacingAndGlyphs" >MCCP 3P</text>
<text x="398.3" y="443.1" font-size="2.4" fill="#3a3a3a" stroke="#3a3a3a" stroke-width="0.05" textLength="8.7" lengthAdjust="spacingAndGlyphs" >100AT</text>
<line x1="398.3" y1="441.1" x2="407.0" y2="441.1" stroke="#383838" stroke-width="0.3" />
<line x1="398.3" y1="444.1" x2="407.0" y2="444.1" stroke="#383838" stroke-width="0.4" />
<text x="398.3" y="447.2" font-size="2.4" fill="#3a3a3a" stroke="#3a3a3a" stroke-width="0.05" textLength="8.7" lengthAdjust="spacingAndGlyphs" >100AF</text>
<line x1="408.3" y1="452.4" x2="408.3" y2="480" stroke="#383838" stroke-width="0.9" />
<circle cx="408.3" cy="469" r="1.3" fill="#111"/>
<rect x="401.1" y="477.9" width="14.4" height="20.4" fill="none" stroke="#1c1c1c" stroke-width="1.1" stroke-dasharray="1.55 1.3" rx="1"/>
<circle cx="408.3" cy="480.6" r="0.85" fill="#111"/>
<line x1="408.5" y1="480.8" x2="410.2" y2="481.6" stroke="#383838" stroke-width="0.7" />
<line x1="410.0" y1="481.6" x2="408.1" y2="484.6" stroke="#383838" stroke-width="0.7" />
<line x1="408.3" y1="484.4" x2="408.3" y2="485.6" stroke="#383838" stroke-width="0.8" />
<rect x="404.55" y="485.7" width="7.6" height="9.5" fill="#fff" stroke="#222" stroke-width="1.15" />
<line x1="405.1" y1="494.6" x2="411.6" y2="486.3" stroke="#222" stroke-width="0.95" />
<line x1="408.7" y1="493.3" x2="411.1" y2="493.3" stroke="#111" stroke-width="1.0" />
<line x1="405.5" y1="487.6" x2="407.3" y2="487.6" stroke="#777" stroke-width="0.5" />
<line x1="408.3" y1="495" x2="408.3" y2="508.6" stroke="#383838" stroke-width="0.9" />
<circle cx="408.3" cy="502.6" r="1.3" fill="#111"/>
<text x="418.3" y="489.0" font-size="2.9" fill="#3a3a3a" stroke="#3a3a3a" stroke-width="0.05" textLength="19.6" lengthAdjust="spacingAndGlyphs" >INVERTER 09</text>
<text x="418.3" y="492.5" font-size="2.9" fill="#3a3a3a" stroke="#3a3a3a" stroke-width="0.05" textLength="22.8" lengthAdjust="spacingAndGlyphs" >OUTPUT 60 KW</text>
<text x="418.3" y="496.5" font-size="2.9" fill="#3a3a3a" stroke="#3a3a3a" stroke-width="0.05" textLength="16" lengthAdjust="spacingAndGlyphs" >400V 50HZ</text>
<rect x="399.1" y="505.2" width="18.4" height="23.6" fill="none" stroke="#383838" stroke-width="0.8" />
<line x1="408.5" y1="517.6" x2="411.3" y2="510.6" stroke="#383838" stroke-width="0.7" />
<line x1="408.3" y1="517.4" x2="408.3" y2="519" stroke="#383838" stroke-width="0.8" />
<line x1="403.6" y1="519" x2="412.90000000000003" y2="519" stroke="#383838" stroke-width="0.8" />
<line x1="403.6" y1="519" x2="403.6" y2="528.6" stroke="#383838" stroke-width="0.8" />
<rect x="402.5" y="521.4" width="2.2" height="3.6" fill="#fff" stroke="#383838" stroke-width="0.6" />
<circle cx="403.6" cy="528.4" r="1.2" fill="#111"/>
<line x1="412.90000000000003" y1="519" x2="412.90000000000003" y2="528.6" stroke="#383838" stroke-width="0.8" />
<rect x="411.8" y="521.4" width="2.2" height="3.6" fill="#fff" stroke="#383838" stroke-width="0.6" />
<circle cx="412.90000000000003" cy="528.4" r="1.2" fill="#111"/>
<line x1="401.8" y1="528.6" x2="414.8" y2="528.6" stroke="#222" stroke-width="1.6" />
<text x="418.1" y="516.9" font-size="2.9" fill="#3a3a3a" stroke="#3a3a3a" stroke-width="0.05" textLength="38.1" lengthAdjust="spacingAndGlyphs" >DISCONECTING SWITCH,</text>
<text x="418.1" y="520.0" font-size="2.9" fill="#3a3a3a" stroke="#3a3a3a" stroke-width="0.05" textLength="14.7" lengthAdjust="spacingAndGlyphs" >FUSE 15A</text>
<line x1="399.0" y1="528.8" x2="399.0" y2="579.4" stroke="#444" stroke-width="0.8" />
<rect x="396.95" y="541.2" width="4.1" height="6.1" fill="#fff" stroke="#3a3a3a" stroke-width="0.75" rx="1.1"/>
<line x1="398.1" y1="544.25" x2="399.9" y2="544.25" stroke="#777" stroke-width="0.6" />
<rect x="396.95" y="549.4" width="4.1" height="6.2" fill="#fff" stroke="#3a3a3a" stroke-width="0.75" rx="1.1"/>
<line x1="398.1" y1="552.5" x2="399.9" y2="552.5" stroke="#777" stroke-width="0.6" />
<rect x="396.95" y="573.3" width="4.1" height="6.2" fill="#fff" stroke="#3a3a3a" stroke-width="0.75" rx="1.1"/>
<line x1="398.1" y1="576.4" x2="399.9" y2="576.4" stroke="#777" stroke-width="0.6" />
<line x1="417.6" y1="528.8" x2="417.6" y2="579.4" stroke="#444" stroke-width="0.8" />
<rect x="415.55" y="541.2" width="4.1" height="6.1" fill="#fff" stroke="#3a3a3a" stroke-width="0.75" rx="1.1"/>
<line x1="416.70000000000005" y1="544.25" x2="418.5" y2="544.25" stroke="#777" stroke-width="0.6" />
<rect x="415.55" y="549.4" width="4.1" height="6.2" fill="#fff" stroke="#3a3a3a" stroke-width="0.75" rx="1.1"/>
<line x1="416.70000000000005" y1="552.5" x2="418.5" y2="552.5" stroke="#777" stroke-width="0.6" />
<rect x="415.55" y="573.3" width="4.1" height="6.2" fill="#fff" stroke="#3a3a3a" stroke-width="0.75" rx="1.1"/>
<line x1="416.70000000000005" y1="576.4" x2="418.5" y2="576.4" stroke="#777" stroke-width="0.6" />
<text x="405.6" y="549.5" font-size="2.9" fill="#444" stroke="#444" stroke-width="0.05" >11</text>
<line x1="484.4" y1="415.2" x2="484.4" y2="442.2" stroke="#383838" stroke-width="1.0" />
<path d="M484.4,442.2 C492.0,442.2 492.0,452.3 484.4,452.3" fill="none" stroke="#383838" stroke-width="1.0" />
<text x="477.0" y="420.8" font-size="2.8" fill="#2a2a2a" stroke="#2a2a2a" stroke-width="0.05" >F10</text>
<text x="458.59999999999997" y="445.4" font-size="2.8" fill="#3a3a3a" stroke="#3a3a3a" stroke-width="0.05" textLength="13.5" lengthAdjust="spacingAndGlyphs" >MCCP 3P</text>
<text x="474.4" y="443.1" font-size="2.4" fill="#3a3a3a" stroke="#3a3a3a" stroke-width="0.05" textLength="8.7" lengthAdjust="spacingAndGlyphs" >100AT</text>
<line x1="474.4" y1="441.1" x2="483.09999999999997" y2="441.1" stroke="#383838" stroke-width="0.3" />
<line x1="474.4" y1="444.1" x2="483.09999999999997" y2="444.1" stroke="#383838" stroke-width="0.4" />
<text x="474.4" y="447.2" font-size="2.4" fill="#3a3a3a" stroke="#3a3a3a" stroke-width="0.05" textLength="8.7" lengthAdjust="spacingAndGlyphs" >100AF</text>
<line x1="484.4" y1="452.4" x2="484.4" y2="480" stroke="#383838" stroke-width="0.9" />
<circle cx="484.4" cy="469" r="1.3" fill="#111"/>
<rect x="477.2" y="477.9" width="14.4" height="20.4" fill="none" stroke="#1c1c1c" stroke-width="1.1" stroke-dasharray="1.55 1.3" rx="1"/>
<circle cx="484.4" cy="480.6" r="0.85" fill="#111"/>
<line x1="484.59999999999997" y1="480.8" x2="486.29999999999995" y2="481.6" stroke="#383838" stroke-width="0.7" />
<line x1="486.09999999999997" y1="481.6" x2="484.2" y2="484.6" stroke="#383838" stroke-width="0.7" />
<line x1="484.4" y1="484.4" x2="484.4" y2="485.6" stroke="#383838" stroke-width="0.8" />
<rect x="480.65" y="485.7" width="7.6" height="9.5" fill="#fff" stroke="#222" stroke-width="1.15" />
<line x1="481.2" y1="494.6" x2="487.7" y2="486.3" stroke="#222" stroke-width="0.95" />
<line x1="484.79999999999995" y1="493.3" x2="487.2" y2="493.3" stroke="#111" stroke-width="1.0" />
<line x1="481.59999999999997" y1="487.6" x2="483.4" y2="487.6" stroke="#777" stroke-width="0.5" />
<line x1="484.4" y1="495" x2="484.4" y2="508.6" stroke="#383838" stroke-width="0.9" />
<circle cx="484.4" cy="502.6" r="1.3" fill="#111"/>
<text x="494.4" y="489.0" font-size="2.9" fill="#3a3a3a" stroke="#3a3a3a" stroke-width="0.05" textLength="19.6" lengthAdjust="spacingAndGlyphs" >INVERTER 10</text>
<text x="494.4" y="492.5" font-size="2.9" fill="#3a3a3a" stroke="#3a3a3a" stroke-width="0.05" textLength="22.8" lengthAdjust="spacingAndGlyphs" >OUTPUT 60 KW</text>
<text x="494.4" y="496.5" font-size="2.9" fill="#3a3a3a" stroke="#3a3a3a" stroke-width="0.05" textLength="16" lengthAdjust="spacingAndGlyphs" >400V 50HZ</text>
<rect x="475.2" y="505.2" width="18.4" height="23.6" fill="none" stroke="#383838" stroke-width="0.8" />
<line x1="484.59999999999997" y1="517.6" x2="487.4" y2="510.6" stroke="#383838" stroke-width="0.7" />
<line x1="484.4" y1="517.4" x2="484.4" y2="519" stroke="#383838" stroke-width="0.8" />
<line x1="479.7" y1="519" x2="489.0" y2="519" stroke="#383838" stroke-width="0.8" />
<line x1="479.7" y1="519" x2="479.7" y2="528.6" stroke="#383838" stroke-width="0.8" />
<rect x="478.59999999999997" y="521.4" width="2.2" height="3.6" fill="#fff" stroke="#383838" stroke-width="0.6" />
<circle cx="479.7" cy="528.4" r="1.2" fill="#111"/>
<line x1="489.0" y1="519" x2="489.0" y2="528.6" stroke="#383838" stroke-width="0.8" />
<rect x="487.9" y="521.4" width="2.2" height="3.6" fill="#fff" stroke="#383838" stroke-width="0.6" />
<circle cx="489.0" cy="528.4" r="1.2" fill="#111"/>
<line x1="477.9" y1="528.6" x2="490.9" y2="528.6" stroke="#222" stroke-width="1.6" />
<text x="494.2" y="516.9" font-size="2.9" fill="#3a3a3a" stroke="#3a3a3a" stroke-width="0.05" textLength="38.1" lengthAdjust="spacingAndGlyphs" >DISCONECTING SWITCH,</text>
<text x="494.2" y="520.0" font-size="2.9" fill="#3a3a3a" stroke="#3a3a3a" stroke-width="0.05" textLength="14.7" lengthAdjust="spacingAndGlyphs" >FUSE 15A</text>
<line x1="475.09999999999997" y1="528.8" x2="475.09999999999997" y2="579.4" stroke="#444" stroke-width="0.8" />
<rect x="473.04999999999995" y="541.2" width="4.1" height="6.1" fill="#fff" stroke="#3a3a3a" stroke-width="0.75" rx="1.1"/>
<line x1="474.2" y1="544.25" x2="475.99999999999994" y2="544.25" stroke="#777" stroke-width="0.6" />
<rect x="473.04999999999995" y="549.4" width="4.1" height="6.2" fill="#fff" stroke="#3a3a3a" stroke-width="0.75" rx="1.1"/>
<line x1="474.2" y1="552.5" x2="475.99999999999994" y2="552.5" stroke="#777" stroke-width="0.6" />
<rect x="473.04999999999995" y="573.3" width="4.1" height="6.2" fill="#fff" stroke="#3a3a3a" stroke-width="0.75" rx="1.1"/>
<line x1="474.2" y1="576.4" x2="475.99999999999994" y2="576.4" stroke="#777" stroke-width="0.6" />
<line x1="493.7" y1="528.8" x2="493.7" y2="579.4" stroke="#444" stroke-width="0.8" />
<rect x="491.65" y="541.2" width="4.1" height="6.1" fill="#fff" stroke="#3a3a3a" stroke-width="0.75" rx="1.1"/>
<line x1="492.8" y1="544.25" x2="494.59999999999997" y2="544.25" stroke="#777" stroke-width="0.6" />
<rect x="491.65" y="549.4" width="4.1" height="6.2" fill="#fff" stroke="#3a3a3a" stroke-width="0.75" rx="1.1"/>
<line x1="492.8" y1="552.5" x2="494.59999999999997" y2="552.5" stroke="#777" stroke-width="0.6" />
<rect x="491.65" y="573.3" width="4.1" height="6.2" fill="#fff" stroke="#3a3a3a" stroke-width="0.75" rx="1.1"/>
<line x1="492.8" y1="576.4" x2="494.59999999999997" y2="576.4" stroke="#777" stroke-width="0.6" />
<text x="481.7" y="549.5" font-size="2.9" fill="#444" stroke="#444" stroke-width="0.05" >11</text>
<line x1="560.5" y1="415.2" x2="560.5" y2="442.2" stroke="#383838" stroke-width="1.0" />
<path d="M560.5,442.2 C568.1,442.2 568.1,452.3 560.5,452.3" fill="none" stroke="#383838" stroke-width="1.0" />
<text x="553.1" y="420.8" font-size="2.8" fill="#2a2a2a" stroke="#2a2a2a" stroke-width="0.05" >F11</text>
<text x="534.7" y="445.4" font-size="2.8" fill="#3a3a3a" stroke="#3a3a3a" stroke-width="0.05" textLength="13.5" lengthAdjust="spacingAndGlyphs" >MCCP 3P</text>
<text x="550.5" y="443.1" font-size="2.4" fill="#3a3a3a" stroke="#3a3a3a" stroke-width="0.05" textLength="8.7" lengthAdjust="spacingAndGlyphs" >100AT</text>
<line x1="550.5" y1="441.1" x2="559.2" y2="441.1" stroke="#383838" stroke-width="0.3" />
<line x1="550.5" y1="444.1" x2="559.2" y2="444.1" stroke="#383838" stroke-width="0.4" />
<text x="550.5" y="447.2" font-size="2.4" fill="#3a3a3a" stroke="#3a3a3a" stroke-width="0.05" textLength="8.7" lengthAdjust="spacingAndGlyphs" >100AF</text>
<line x1="560.5" y1="452.4" x2="560.5" y2="480" stroke="#383838" stroke-width="0.9" />
<circle cx="560.5" cy="469" r="1.3" fill="#111"/>
<rect x="553.3" y="477.9" width="14.4" height="20.4" fill="none" stroke="#1c1c1c" stroke-width="1.1" stroke-dasharray="1.55 1.3" rx="1"/>
<circle cx="560.5" cy="480.6" r="0.85" fill="#111"/>
<line x1="560.7" y1="480.8" x2="562.4" y2="481.6" stroke="#383838" stroke-width="0.7" />
<line x1="562.2" y1="481.6" x2="560.3" y2="484.6" stroke="#383838" stroke-width="0.7" />
<line x1="560.5" y1="484.4" x2="560.5" y2="485.6" stroke="#383838" stroke-width="0.8" />
<rect x="556.75" y="485.7" width="7.6" height="9.5" fill="#fff" stroke="#222" stroke-width="1.15" />
<line x1="557.3" y1="494.6" x2="563.8" y2="486.3" stroke="#222" stroke-width="0.95" />
<line x1="560.9" y1="493.3" x2="563.3" y2="493.3" stroke="#111" stroke-width="1.0" />
<line x1="557.7" y1="487.6" x2="559.5" y2="487.6" stroke="#777" stroke-width="0.5" />
<line x1="560.5" y1="495" x2="560.5" y2="508.6" stroke="#383838" stroke-width="0.9" />
<circle cx="560.5" cy="502.6" r="1.3" fill="#111"/>
<text x="570.5" y="489.0" font-size="2.9" fill="#3a3a3a" stroke="#3a3a3a" stroke-width="0.05" textLength="19.6" lengthAdjust="spacingAndGlyphs" >INVERTER 11</text>
<text x="570.5" y="492.5" font-size="2.9" fill="#3a3a3a" stroke="#3a3a3a" stroke-width="0.05" textLength="22.8" lengthAdjust="spacingAndGlyphs" >OUTPUT 60 KW</text>
<text x="570.5" y="496.5" font-size="2.9" fill="#3a3a3a" stroke="#3a3a3a" stroke-width="0.05" textLength="16" lengthAdjust="spacingAndGlyphs" >400V 50HZ</text>
<rect x="551.3" y="505.2" width="18.4" height="23.6" fill="none" stroke="#383838" stroke-width="0.8" />
<line x1="560.7" y1="517.6" x2="563.5" y2="510.6" stroke="#383838" stroke-width="0.7" />
<line x1="560.5" y1="517.4" x2="560.5" y2="519" stroke="#383838" stroke-width="0.8" />
<line x1="555.8" y1="519" x2="565.1" y2="519" stroke="#383838" stroke-width="0.8" />
<line x1="555.8" y1="519" x2="555.8" y2="528.6" stroke="#383838" stroke-width="0.8" />
<rect x="554.6999999999999" y="521.4" width="2.2" height="3.6" fill="#fff" stroke="#383838" stroke-width="0.6" />
<circle cx="555.8" cy="528.4" r="1.2" fill="#111"/>
<line x1="565.1" y1="519" x2="565.1" y2="528.6" stroke="#383838" stroke-width="0.8" />
<rect x="564.0" y="521.4" width="2.2" height="3.6" fill="#fff" stroke="#383838" stroke-width="0.6" />
<circle cx="565.1" cy="528.4" r="1.2" fill="#111"/>
<line x1="554.0" y1="528.6" x2="567.0" y2="528.6" stroke="#222" stroke-width="1.6" />
<text x="570.3" y="516.9" font-size="2.9" fill="#3a3a3a" stroke="#3a3a3a" stroke-width="0.05" textLength="38.1" lengthAdjust="spacingAndGlyphs" >DISCONECTING SWITCH,</text>
<text x="570.3" y="520.0" font-size="2.9" fill="#3a3a3a" stroke="#3a3a3a" stroke-width="0.05" textLength="14.7" lengthAdjust="spacingAndGlyphs" >FUSE 15A</text>
<line x1="551.2" y1="528.8" x2="551.2" y2="579.4" stroke="#444" stroke-width="0.8" />
<rect x="549.1500000000001" y="541.2" width="4.1" height="6.1" fill="#fff" stroke="#3a3a3a" stroke-width="0.75" rx="1.1"/>
<line x1="550.3000000000001" y1="544.25" x2="552.1" y2="544.25" stroke="#777" stroke-width="0.6" />
<rect x="549.1500000000001" y="549.4" width="4.1" height="6.2" fill="#fff" stroke="#3a3a3a" stroke-width="0.75" rx="1.1"/>
<line x1="550.3000000000001" y1="552.5" x2="552.1" y2="552.5" stroke="#777" stroke-width="0.6" />
<rect x="549.1500000000001" y="573.3" width="4.1" height="6.2" fill="#fff" stroke="#3a3a3a" stroke-width="0.75" rx="1.1"/>
<line x1="550.3000000000001" y1="576.4" x2="552.1" y2="576.4" stroke="#777" stroke-width="0.6" />
<line x1="569.8" y1="528.8" x2="569.8" y2="579.4" stroke="#444" stroke-width="0.8" />
<rect x="567.75" y="541.2" width="4.1" height="6.1" fill="#fff" stroke="#3a3a3a" stroke-width="0.75" rx="1.1"/>
<line x1="568.9" y1="544.25" x2="570.6999999999999" y2="544.25" stroke="#777" stroke-width="0.6" />
<rect x="567.75" y="549.4" width="4.1" height="6.2" fill="#fff" stroke="#3a3a3a" stroke-width="0.75" rx="1.1"/>
<line x1="568.9" y1="552.5" x2="570.6999999999999" y2="552.5" stroke="#777" stroke-width="0.6" />
<rect x="567.75" y="573.3" width="4.1" height="6.2" fill="#fff" stroke="#3a3a3a" stroke-width="0.75" rx="1.1"/>
<line x1="568.9" y1="576.4" x2="570.6999999999999" y2="576.4" stroke="#777" stroke-width="0.6" />
<text x="557.8" y="549.5" font-size="2.9" fill="#444" stroke="#444" stroke-width="0.05" >10</text>
<line x1="636.6" y1="415.2" x2="636.6" y2="442.2" stroke="#383838" stroke-width="1.0" />
<path d="M636.6,442.2 C644.2,442.2 644.2,452.3 636.6,452.3" fill="none" stroke="#383838" stroke-width="1.0" />
<text x="629.2" y="420.8" font-size="2.8" fill="#2a2a2a" stroke="#2a2a2a" stroke-width="0.05" >F14</text>
<text x="610.8000000000001" y="445.4" font-size="2.8" fill="#3a3a3a" stroke="#3a3a3a" stroke-width="0.05" textLength="13.5" lengthAdjust="spacingAndGlyphs" >MCCP 3P</text>
<text x="626.6" y="443.1" font-size="2.4" fill="#3a3a3a" stroke="#3a3a3a" stroke-width="0.05" textLength="8.7" lengthAdjust="spacingAndGlyphs" >100AT</text>
<line x1="626.6" y1="441.1" x2="635.3000000000001" y2="441.1" stroke="#383838" stroke-width="0.3" />
<line x1="626.6" y1="444.1" x2="635.3000000000001" y2="444.1" stroke="#383838" stroke-width="0.4" />
<text x="626.6" y="447.2" font-size="2.4" fill="#3a3a3a" stroke="#3a3a3a" stroke-width="0.05" textLength="8.7" lengthAdjust="spacingAndGlyphs" >100AF</text>
<line x1="636.6" y1="452.4" x2="636.6" y2="480" stroke="#383838" stroke-width="0.9" />
<circle cx="636.6" cy="469" r="1.3" fill="#111"/>
<rect x="629.4" y="477.9" width="14.4" height="20.4" fill="none" stroke="#1c1c1c" stroke-width="1.1" stroke-dasharray="1.55 1.3" rx="1"/>
<circle cx="636.6" cy="480.6" r="0.85" fill="#111"/>
<line x1="636.8000000000001" y1="480.8" x2="638.5" y2="481.6" stroke="#383838" stroke-width="0.7" />
<line x1="638.3000000000001" y1="481.6" x2="636.4" y2="484.6" stroke="#383838" stroke-width="0.7" />
<line x1="636.6" y1="484.4" x2="636.6" y2="485.6" stroke="#383838" stroke-width="0.8" />
<rect x="632.85" y="485.7" width="7.6" height="9.5" fill="#fff" stroke="#222" stroke-width="1.15" />
<line x1="633.4" y1="494.6" x2="639.9" y2="486.3" stroke="#222" stroke-width="0.95" />
<line x1="637.0" y1="493.3" x2="639.4" y2="493.3" stroke="#111" stroke-width="1.0" />
<line x1="633.8000000000001" y1="487.6" x2="635.6" y2="487.6" stroke="#777" stroke-width="0.5" />
<line x1="636.6" y1="495" x2="636.6" y2="508.6" stroke="#383838" stroke-width="0.9" />
<circle cx="636.6" cy="502.6" r="1.3" fill="#111"/>
<text x="646.6" y="489.0" font-size="2.9" fill="#3a3a3a" stroke="#3a3a3a" stroke-width="0.05" textLength="19.6" lengthAdjust="spacingAndGlyphs" >INVERTER 14</text>
<text x="646.6" y="492.5" font-size="2.9" fill="#3a3a3a" stroke="#3a3a3a" stroke-width="0.05" textLength="22.8" lengthAdjust="spacingAndGlyphs" >OUTPUT 60 KW</text>
<text x="646.6" y="496.5" font-size="2.9" fill="#3a3a3a" stroke="#3a3a3a" stroke-width="0.05" textLength="16" lengthAdjust="spacingAndGlyphs" >400V 50HZ</text>
<rect x="627.4" y="505.2" width="18.4" height="23.6" fill="none" stroke="#383838" stroke-width="0.8" />
<line x1="636.8000000000001" y1="517.6" x2="639.6" y2="510.6" stroke="#383838" stroke-width="0.7" />
<line x1="636.6" y1="517.4" x2="636.6" y2="519" stroke="#383838" stroke-width="0.8" />
<line x1="631.9" y1="519" x2="641.2" y2="519" stroke="#383838" stroke-width="0.8" />
<line x1="631.9" y1="519" x2="631.9" y2="528.6" stroke="#383838" stroke-width="0.8" />
<rect x="630.8" y="521.4" width="2.2" height="3.6" fill="#fff" stroke="#383838" stroke-width="0.6" />
<circle cx="631.9" cy="528.4" r="1.2" fill="#111"/>
<line x1="641.2" y1="519" x2="641.2" y2="528.6" stroke="#383838" stroke-width="0.8" />
<rect x="640.1" y="521.4" width="2.2" height="3.6" fill="#fff" stroke="#383838" stroke-width="0.6" />
<circle cx="641.2" cy="528.4" r="1.2" fill="#111"/>
<line x1="630.1" y1="528.6" x2="643.1" y2="528.6" stroke="#222" stroke-width="1.6" />
<text x="646.4" y="516.9" font-size="2.9" fill="#3a3a3a" stroke="#3a3a3a" stroke-width="0.05" textLength="38.1" lengthAdjust="spacingAndGlyphs" >DISCONECTING SWITCH,</text>
<text x="646.4" y="520.0" font-size="2.9" fill="#3a3a3a" stroke="#3a3a3a" stroke-width="0.05" textLength="14.7" lengthAdjust="spacingAndGlyphs" >FUSE 15A</text>
<line x1="627.3000000000001" y1="528.8" x2="627.3000000000001" y2="579.4" stroke="#444" stroke-width="0.8" />
<rect x="625.2500000000001" y="541.2" width="4.1" height="6.1" fill="#fff" stroke="#3a3a3a" stroke-width="0.75" rx="1.1"/>
<line x1="626.4000000000001" y1="544.25" x2="628.2" y2="544.25" stroke="#777" stroke-width="0.6" />
<rect x="625.2500000000001" y="549.4" width="4.1" height="6.2" fill="#fff" stroke="#3a3a3a" stroke-width="0.75" rx="1.1"/>
<line x1="626.4000000000001" y1="552.5" x2="628.2" y2="552.5" stroke="#777" stroke-width="0.6" />
<rect x="625.2500000000001" y="573.3" width="4.1" height="6.2" fill="#fff" stroke="#3a3a3a" stroke-width="0.75" rx="1.1"/>
<line x1="626.4000000000001" y1="576.4" x2="628.2" y2="576.4" stroke="#777" stroke-width="0.6" />
<line x1="645.9" y1="528.8" x2="645.9" y2="579.4" stroke="#444" stroke-width="0.8" />
<rect x="643.85" y="541.2" width="4.1" height="6.1" fill="#fff" stroke="#3a3a3a" stroke-width="0.75" rx="1.1"/>
<line x1="645.0" y1="544.25" x2="646.8" y2="544.25" stroke="#777" stroke-width="0.6" />
<rect x="643.85" y="549.4" width="4.1" height="6.2" fill="#fff" stroke="#3a3a3a" stroke-width="0.75" rx="1.1"/>
<line x1="645.0" y1="552.5" x2="646.8" y2="552.5" stroke="#777" stroke-width="0.6" />
<rect x="643.85" y="573.3" width="4.1" height="6.2" fill="#fff" stroke="#3a3a3a" stroke-width="0.75" rx="1.1"/>
<line x1="645.0" y1="576.4" x2="646.8" y2="576.4" stroke="#777" stroke-width="0.6" />
<text x="633.9" y="549.5" font-size="2.9" fill="#444" stroke="#444" stroke-width="0.05" >10</text>
<line x1="712.7" y1="415.2" x2="712.7" y2="442.2" stroke="#383838" stroke-width="1.0" />
<path d="M712.7,442.2 C720.3000000000001,442.2 720.3000000000001,452.3 712.7,452.3" fill="none" stroke="#383838" stroke-width="1.0" />
<text x="705.3000000000001" y="420.8" font-size="2.8" fill="#2a2a2a" stroke="#2a2a2a" stroke-width="0.05" >F15</text>
<text x="686.9000000000001" y="445.4" font-size="2.8" fill="#3a3a3a" stroke="#3a3a3a" stroke-width="0.05" textLength="13.5" lengthAdjust="spacingAndGlyphs" >MCCP 3P</text>
<text x="702.7" y="443.1" font-size="2.4" fill="#3a3a3a" stroke="#3a3a3a" stroke-width="0.05" textLength="8.7" lengthAdjust="spacingAndGlyphs" >100AT</text>
<line x1="702.7" y1="441.1" x2="711.4000000000001" y2="441.1" stroke="#383838" stroke-width="0.3" />
<line x1="702.7" y1="444.1" x2="711.4000000000001" y2="444.1" stroke="#383838" stroke-width="0.4" />
<text x="702.7" y="447.2" font-size="2.4" fill="#3a3a3a" stroke="#3a3a3a" stroke-width="0.05" textLength="8.7" lengthAdjust="spacingAndGlyphs" >100AF</text>
<line x1="712.7" y1="452.4" x2="712.7" y2="480.2" stroke="#383838" stroke-width="0.9" />
<circle cx="712.7" cy="480.4" r="0.9" fill="#111"/>
<text x="701" y="489.0" font-size="2.8" fill="#3a3a3a" stroke="#3a3a3a" stroke-width="0.05" textLength="24.2" lengthAdjust="spacingAndGlyphs" >FOR AUXILIARY</text>
<line x1="256" y1="469" x2="643.4" y2="469" stroke="#383838" stroke-width="0.9" />
<line x1="256" y1="502.6" x2="713.3" y2="502.6" stroke="#383838" stroke-width="0.9" />
<line x1="246.8" y1="528.8" x2="713.3" y2="528.8" stroke="#383838" stroke-width="0.9" />
<text x="715.5" y="504" font-size="4.8" fill="#222" stroke="#222" stroke-width="0.16" textLength="24.3" lengthAdjust="spacingAndGlyphs" >2x1C-35mm</text>
<text x="739.2" y="499.6" font-size="2.4" fill="#3a3a3a" stroke="#3a3a3a" stroke-width="0.05" >2</text>
<text x="741.6" y="504" font-size="4.8" fill="#222" stroke="#222" stroke-width="0.16" textLength="25.1" lengthAdjust="spacingAndGlyphs" >0.6/1KV-CV</text>
<text x="715.5" y="530.3" font-size="4.8" fill="#222" stroke="#222" stroke-width="0.16" textLength="21.5" lengthAdjust="spacingAndGlyphs" >2x1C-4mm</text>
<text x="736.5" y="525.5" font-size="2.4" fill="#3a3a3a" stroke="#3a3a3a" stroke-width="0.05" >2</text>
<text x="739.2" y="530.3" font-size="4.8" fill="#222" stroke="#222" stroke-width="0.16" textLength="22.7" lengthAdjust="spacingAndGlyphs" >PV CABLE</text>
<rect x="792.4" y="471" width="14.2" height="5.8" fill="#fff" stroke="#383838" stroke-width="0.9" />
<rect x="795.2" y="473.1" width="1.6" height="1.6" fill="#111" stroke="none" stroke-width="0.0" />
<rect x="798.7" y="473.1" width="1.6" height="1.6" fill="#111" stroke="none" stroke-width="0.0" />
<rect x="802.2" y="473.1" width="1.6" height="1.6" fill="#111" stroke="none" stroke-width="0.0" />
<polyline points="806.6,474 813.3,474 813.3,480.2" fill="none" stroke="#383838" stroke-width="0.8" />
<path d="M811.8,480 L814.8,480 L813.3,482.2 Z" fill="#111" stroke="#383838" stroke-width="0.4" />
</g>
</svg>
</body></html>
